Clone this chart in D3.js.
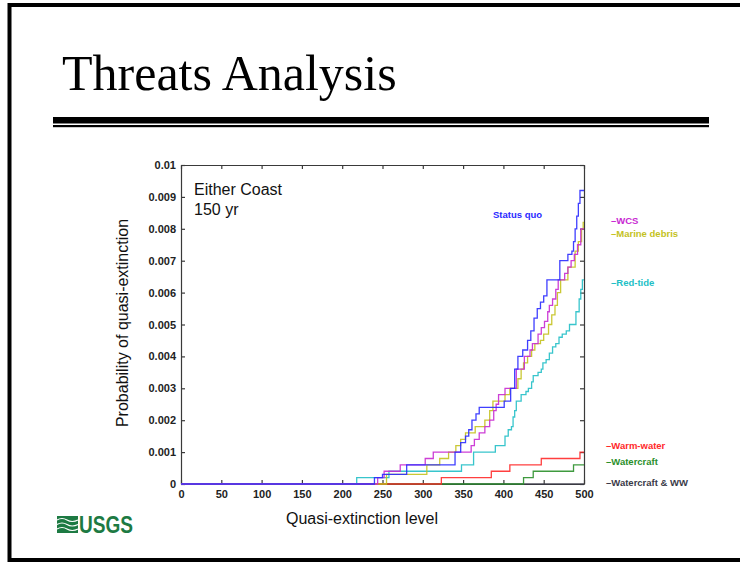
<!DOCTYPE html>
<html>
<head>
<meta charset="utf-8">
<script src="https://cdn.jsdelivr.net/npm/d3@7"></script>
<style>
  html, body { margin: 0; padding: 0; background: #fff; }
  svg { display: block; }
</style>
</head>
<body>
<svg id="chart" width="740" height="563"></svg>
<script>
// ---------------- data ----------------
const xTicks = [0, 50, 100, 150, 200, 250, 300, 350, 400, 450, 500];
const yTicks = [0, 0.001, 0.002, 0.003, 0.004, 0.005, 0.006, 0.007, 0.008, 0.009, 0.01];
const yTickLabels = ["0", "0.001", "0.002", "0.003", "0.004", "0.005", "0.006", "0.007", "0.008", "0.009", "0.01"];

// step series: [quasi-extinction level, probability]
const statusQuo = [[0,0],[240,0.0002],[250,0.0003],[280,0.0006],[340,0.001],[347,0.0013],[353,0.0015],[357,0.0017],[361,0.002],[366,0.0022],[370,0.0024],[401,0.0026],[409,0.003],[414,0.0036],[418,0.004],[424,0.0042],[430,0.0045],[434,0.0048],[438,0.0052],[442,0.0055],[446,0.0057],[450,0.0059],[454,0.0064],[470,0.007],[480,0.0072],[485,0.0073],[487,0.0076],[489,0.008],[491,0.0084],[493,0.0088],[495,0.0092]];
const wcs = [[0,0],[244,0.0002],[252,0.0004],[272,0.0006],[303,0.0008],[313,0.001],[360,0.0012],[364,0.0014],[370,0.0016],[377,0.0018],[383,0.002],[388,0.0023],[391,0.0025],[394,0.0028],[402,0.003],[416,0.0036],[426,0.004],[433,0.0042],[436,0.0044],[443,0.0047],[447,0.0049],[451,0.0051],[455,0.0054],[457,0.0056],[461,0.0058],[465,0.0061],[468,0.0064],[476,0.0066],[480,0.0068],[484,0.007],[488,0.0072],[492,0.0075],[496,0.008]];
const marineDebris = [[0,0],[255,0.0003],[305,0.0006],[321,0.0008],[332,0.001],[341,0.0012],[347,0.0014],[353,0.0016],[365,0.0018],[377,0.002],[383,0.0023],[387,0.0026],[402,0.0028],[408,0.003],[418,0.0033],[422,0.0036],[425,0.0038],[430,0.004],[435,0.0042],[439,0.0044],[446,0.0045],[450,0.0047],[456,0.005],[460,0.0053],[464,0.0056],[467,0.006],[471,0.0064],[480,0.0068],[489,0.0073],[493,0.0076],[497,0.008],[499,0.0082]];
const redTide = [[0,0],[218,0.0002],[258,0.0004],[348,0.0006],[363,0.001],[390,0.0012],[402,0.0015],[406,0.0017],[410,0.0018],[412,0.0021],[414,0.0023],[416,0.0026],[422,0.0028],[428,0.0029],[431,0.003],[435,0.0032],[437,0.0034],[443,0.0035],[447,0.0036],[449,0.0038],[453,0.0039],[457,0.0041],[461,0.0043],[465,0.0044],[469,0.0046],[473,0.0047],[478,0.0048],[482,0.005],[490,0.0054],[494,0.0058],[496,0.0061],[498,0.0064]];
const warmWater = [[0,0],[323,0.0002],[385,0.0004],[408,0.0006],[447,0.0008],[495,0.001]];
const watercraft = [[0,0],[425,0.0002],[437,0.0004],[487,0.0006]];
const watercraftWW = [[0,0]];

const seriesNames = ["Watercraft & WW", "Watercraft", "Warm-water", "Red-tide", "Marine debris", "WCS", "Status quo"];
const seriesData = [watercraftWW, watercraft, warmWater, redTide, marineDebris, wcs, statusQuo];
const seriesColors = ["#3a3a48", "#2a8f2a", "#ff2a2a", "#22bfc6", "#c4c21e", "#c82ad2", "#2a2aff"];
const legendY = [482, 461, 445, 282, 233, 220, null];
const legendX = [606, 606, 606, 611, 611, 611, null];

// ---------------- drawing ----------------
const svg = d3.select("#chart");
svg.append("rect").attr("width", 740).attr("height", 563).attr("fill", "#fff");

// slide frame
svg.append("rect").attr("x", 9.5).attr("y", 5).attr("width", 800).attr("height", 555)
  .attr("fill", "none").attr("stroke", "#000").attr("stroke-width", 4);

// title
svg.append("text").attr("x", 62).attr("y", 90)
  .attr("font-family", "'Liberation Serif', 'Times New Roman', serif")
  .attr("font-size", 50).attr("fill", "#000").text("Threats Analysis");
svg.append("rect").attr("x", 53).attr("y", 117).attr("width", 656).attr("height", 6.5).attr("fill", "#000");
svg.append("rect").attr("x", 53).attr("y", 125).attr("width", 656).attr("height", 2.2).attr("fill", "#000");

const x = d3.scaleLinear().domain([0, 500]).range([181, 584]);
const y = d3.scaleLinear().domain([0, 0.01]).range([484, 165]);

const font = "'Liberation Sans', Arial, sans-serif";
const axisColor = "#3a3a3a";

function styleAxis(g) {
  g.selectAll("path").attr("stroke", axisColor).attr("stroke-width", 1.2);
  g.selectAll("line").attr("stroke", axisColor).attr("stroke-width", 1.2);
  g.selectAll("text").attr("font-family", font).attr("font-size", 11)
    .attr("font-weight", "bold").attr("fill", "#222");
}

svg.append("g").attr("transform", "translate(0,484)")
  .call(d3.axisBottom(x).tickValues(xTicks).tickSize(-4).tickSizeOuter(0).tickPadding(6).tickFormat(d3.format("d")))
  .call(styleAxis);
svg.append("g").attr("transform", "translate(0,165)")
  .call(d3.axisTop(x).tickValues(xTicks).tickSize(-4).tickSizeOuter(0).tickFormat(""))
  .call(styleAxis);
svg.append("g").attr("transform", "translate(181,0)")
  .call(d3.axisLeft(y).tickValues(yTicks).tickSize(-4).tickSizeOuter(0).tickPadding(5).tickFormat((d, i) => yTickLabels[i]))
  .call(styleAxis);
svg.append("g").attr("transform", "translate(584,0)")
  .call(d3.axisRight(y).tickValues(yTicks).tickSize(-4).tickSizeOuter(0).tickFormat(""))
  .call(styleAxis);

// series
const line = d3.line().x(d => x(d[0])).y(d => y(d[1])).curve(d3.curveStepAfter);
seriesData.forEach((data, i) => {
  const pts = data.concat([[500, data[data.length - 1][1]]]);
  svg.append("path").datum(pts).attr("d", line)
    .attr("fill", "none").attr("stroke", seriesColors[i]).attr("stroke-width", 1.3)
    .attr("stroke-opacity", 0.9);
});

// in-plot text
svg.append("text").attr("x", 194).attr("y", 195).attr("font-family", font).attr("font-size", 16)
  .attr("fill", "#111").text("Either Coast");
svg.append("text").attr("x", 194).attr("y", 215).attr("font-family", font).attr("font-size", 16)
  .attr("fill", "#111").text("150 yr");
svg.append("text").attr("x", 493).attr("y", 218).attr("font-family", font).attr("font-size", 9.5)
  .attr("font-weight", "bold").attr("fill", seriesColors[6]).text("Status quo");

// legend labels
seriesNames.forEach((name, i) => {
  if (legendY[i] === null) return;
  svg.append("text").attr("x", legendX[i]).attr("y", legendY[i] + 3.5)
    .attr("font-family", font).attr("font-size", 9.5).attr("font-weight", "bold")
    .attr("fill", seriesColors[i]).text("\u2013" + name);
});

// axis titles
svg.append("text").attr("x", 362).attr("y", 524).attr("text-anchor", "middle")
  .attr("font-family", font).attr("font-size", 16).attr("fill", "#111").text("Quasi-extinction level");
svg.append("text").attr("transform", "translate(128,323) rotate(-90)").attr("text-anchor", "middle")
  .attr("font-family", font).attr("font-size", 16).attr("fill", "#111").text("Probability of quasi-extinction");

// USGS logo
const logo = svg.append("g");
logo.append("rect").attr("x", 57).attr("y", 516).attr("width", 21).attr("height", 17).attr("fill", "#1d7a43");
[520, 524.5, 529].forEach(yy => {
  logo.append("path")
    .attr("d", `M57,${yy} Q62,${yy - 3} 67,${yy} T78,${yy}`)
    .attr("fill", "none").attr("stroke", "#fff").attr("stroke-width", 1.2);
});
logo.append("text").attr("x", 79).attr("y", 533).attr("font-family", "'Liberation Sans Narrow', 'Arial Narrow', sans-serif")
  .attr("font-size", 24).attr("font-weight", "bold").attr("fill", "#1d7a43")
  .attr("textLength", 54).attr("lengthAdjust", "spacingAndGlyphs").text("USGS");
</script>
</body>
</html>
